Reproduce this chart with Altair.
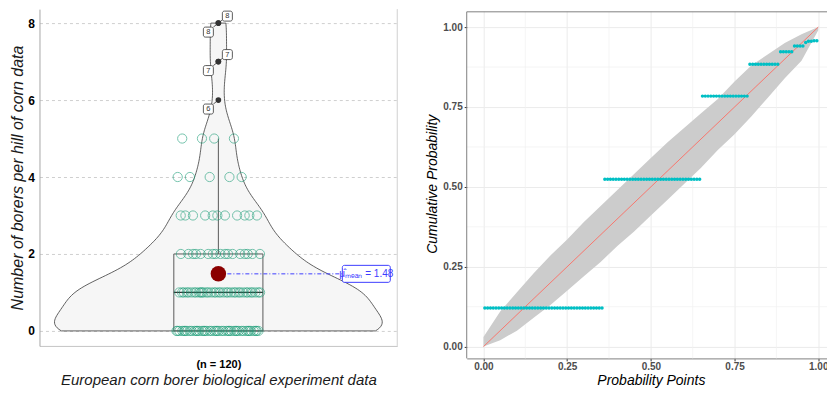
import altair as alt
import pandas as pd
import numpy as np

# ---------------- data ----------------
borer_values = [0, 1, 2, 3, 4, 5, 6, 7, 8]
borer_counts = [43, 35, 17, 11, 5, 4, 1, 2, 2]
# fitted cumulative probability plotted for each observed value (P-P plot)
pp_cum_prob = [0.121, 0.524, 0.784, 0.884, 0.923, 0.941, 0.952, 0.956, 0.957]

# simulation envelope of the P-P plot
band_x = [0.00, 0.05, 0.10, 0.15, 0.20, 0.25, 0.30, 0.35, 0.40, 0.45, 0.50,
          0.55, 0.60, 0.65, 0.70, 0.75, 0.80, 0.85, 0.90, 0.95, 1.00]
band_upper = [0.03, 0.11, 0.17, 0.23, 0.285, 0.335, 0.39, 0.44, 0.49, 0.54, 0.59,
              0.64, 0.685, 0.73, 0.775, 0.83, 0.88, 0.915, 0.95, 0.978, 1.00]
band_lower = [0.00, 0.02, 0.05, 0.09, 0.13, 0.175, 0.22, 0.265, 0.315, 0.36, 0.41,
              0.46, 0.51, 0.56, 0.615, 0.665, 0.72, 0.78, 0.84, 0.895, 0.99]
diag_x = [0.0, 1.0]

left_y_ticks = [0, 2, 4, 6, 8]
pp_major_ticks = [0.0, 0.25, 0.5, 0.75, 1.0]
pp_minor_ticks = [0.125, 0.375, 0.625, 0.875]

x_title_left = "European corn borer biological experiment data"
y_title_left = "Number of borers per hill of corn data"
x_title_right = "Probability Points"
y_title_right = "Cumulative Probability"

# ---------------- tables ----------------
n = int(sum(borer_counts))
rows = []
i = 0
for v, c, p in zip(borer_values, borer_counts, pp_cum_prob):
    for k in range(c):
        i += 1
        rows.append({"value": v, "rank": k, "cum": p, "ppoint": (i - 0.5) / n})
obs = pd.DataFrame(rows)

arr = np.repeat(borer_values, borer_counts)
q1, q3 = np.percentile(arr, [25, 75])
bw = float(0.9 * min(arr.std(ddof=1), (q3 - q1) / 1.34) * n ** -0.2)

band_df = pd.DataFrame({"x": band_x, "lo": band_lower, "hi": band_upper})
minor_df = pd.DataFrame({"m": pp_minor_ticks})
diag_df = pd.DataFrame({"d": diag_x})

FONT = "Liberation Sans"
VW = 0.916   # violin half width (share of panel half width)
BW = 0.249   # box half width

LW, LH = 358, 337          # left plot size
RW, RH = 368.5, 349.5      # right plot size

# ---------------- left panel ----------------
xs_l = alt.Scale(domain=[-1, 1], nice=False, zero=False)
ys_l = alt.Scale(domain=[-0.3896, 8.3636], nice=False, zero=False)

XA = alt.Axis(values=[0], labelExpr=f"'(n = {n})'", labelFontWeight="bold",
              labelFontSize=11, labelColor="black", ticks=False, tickSize=0,
              labelPadding=13, domainColor="#c4c4c4", grid=False,
              title=x_title_left, titleFontSize=15, titleFontStyle="italic",
              titleFontWeight="normal", titleColor="#1a1a1a",
              titleY=38.5, titleBaseline="alphabetic")
YA = alt.Axis(values=left_y_ticks, format="d", labelFontWeight="bold",
              labelFontSize=12, labelColor="black", ticks=False, tickSize=0,
              labelPadding=5, grid=True, gridDash=[3, 3], gridColor="#cfcfcf",
              domainColor="#a8a8a8", title=y_title_left, titleFontSize=16,
              titleFontStyle="italic", titleFontWeight="normal",
              titleColor="#1a1a1a", titleX=-21.5, titleBaseline="middle")


def xd(v):
    return alt.XDatum(v, scale=xs_l, axis=XA)


def yf(f):
    return alt.Y(f, scale=ys_l, axis=YA)


base = alt.Chart(obs)

violin = base.transform_density(
    "value", as_=["value", "density"], bandwidth=bw, extent=[0, 8], steps=200
).transform_joinaggregate(maxd="max(density)").transform_calculate(
    hw=f"{VW}*datum.density/datum.maxd", nhw=f"-{VW}*datum.density/datum.maxd"
).mark_area(orient="horizontal", fill="#f6f6f6", stroke="#3a3a3a", strokeWidth=0.8).encode(
    y=yf("value:Q"),
    x=alt.X("nhw:Q", scale=xs_l, axis=XA),
    x2="hw:Q",
)

fence = base.transform_joinaggregate(fq1="q1(value)", fq3="q3(value)").transform_calculate(
    fence="datum.fq3 + 1.5*(datum.fq3 - datum.fq1)")

stats = base.transform_aggregate(bq1="q1(value)", bmed="median(value)", bq3="q3(value)")
box = stats.mark_rect(fill="white", fillOpacity=0, stroke="#595959", strokeWidth=1).encode(
    x=xd(-BW), x2=alt.X2Datum(BW), y=yf("bq1:Q"), y2="bq3:Q")
med = stats.mark_rule(color="#333333", strokeWidth=1.3).encode(
    x=xd(-BW), x2=alt.X2Datum(BW), y=yf("bmed:Q"))
whisk = fence.transform_filter("datum.value <= datum.fence").transform_aggregate(
    top="max(value)", wq3="max(fq3)").mark_rule(color="#595959", strokeWidth=1).encode(
    x=xd(0), y=yf("wq3:Q"), y2="top:Q")

jit = fence.transform_filter("datum.value <= datum.fence").transform_calculate(
    jx=f"(((datum.rank*0.618034 + datum.value*0.29) % 1) * 2 - 1) * {BW - 0.015}"
).mark_point(shape="circle", filled=False, size=85, color="#1b9e77", strokeWidth=1,
             opacity=0.6).encode(
    x=alt.X("jx:Q", scale=xs_l, axis=XA), y=yf("value:Q"))

outl = fence.transform_filter("datum.value > datum.fence")
out_pts = outl.mark_circle(size=32, color="#333333", opacity=1).encode(
    x=xd(0), y=yf("value:Q"))

out_l = outl.transform_filter("datum.rank % 2 == 0")
out_r = outl.transform_filter("datum.rank % 2 == 1")
conn_l = out_l.mark_rule(color="#333333", strokeWidth=0.8, x2Offset=-5, y2Offset=4).encode(
    x=xd(0), x2=alt.X2Datum(0), y=yf("value:Q"), y2="value:Q")
conn_r = out_r.mark_rule(color="#333333", strokeWidth=0.8, x2Offset=5, y2Offset=-4).encode(
    x=xd(0), x2=alt.X2Datum(0), y=yf("value:Q"), y2="value:Q")
box_l = out_l.mark_rect(width=10, height=10, cornerRadius=2, fill="white", stroke="#333333",
                        strokeWidth=0.8, xOffset=-10, yOffset=9).encode(
    x=xd(0), y=yf("value:Q"))
box_r = out_r.mark_rect(width=10, height=10, cornerRadius=2, fill="white", stroke="#333333",
                        strokeWidth=0.8, xOffset=9, yOffset=-7).encode(
    x=xd(0), y=yf("value:Q"))
txt_l = out_l.mark_text(dx=-10, dy=9, fontSize=7.5, color="#333333").encode(
    x=xd(0), y=yf("value:Q"), text="value:Q")
txt_r = out_r.mark_text(dx=9, dy=-7, fontSize=7.5, color="#333333").encode(
    x=xd(0), y=yf("value:Q"), text="value:Q")

mean_base = base.transform_aggregate(mu="mean(value)").transform_calculate(
    lab="'\u03bc\u0302\u2098\u2091\u2090\u2099 = ' + format(datum.mu, '.2f')")
mean_line = mean_base.mark_rule(color="#3d3dff", strokeDash=[4, 2, 1, 2], strokeWidth=1).encode(
    x=xd(0), x2=alt.X2Datum(0.693), y=yf("mu:Q"))
mean_box = mean_base.mark_rect(height=17, cornerRadius=2, fill="white", stroke="#3d3dff",
                               strokeWidth=1).encode(
    x=xd(0.693), x2=alt.X2Datum(0.961), y=yf("mu:Q"))
mean_txt = mean_base.mark_text(fontSize=10, color="#3d3dff").encode(
    x=xd(0.827), y=yf("mu:Q"), text="lab:N")
mean_pt = mean_base.mark_circle(size=240, color="#8b0000", opacity=1).encode(
    x=xd(0), y=yf("mu:Q"))

rborder = base.transform_aggregate(cnt="count()").mark_rule(color="#d0d0d0").encode(
    x=alt.value(LW), y=alt.value(0), y2=alt.value(LH))

left = alt.layer(
    violin, box, med, whisk, jit, out_pts, conn_l, conn_r, box_l, box_r, txt_l, txt_r,
    mean_line, mean_box, mean_txt, mean_pt, rborder
).properties(width=LW, height=LH, view=alt.ViewBackground(stroke="transparent"))

# ---------------- right panel ----------------
xs_r = alt.Scale(domain=[-0.05, 1.05], nice=False, zero=False)
ys_r = alt.Scale(domain=[-0.0369, 1.0563], nice=False, zero=False)
ax_common = dict(format=".2f", labelFontWeight="bold", labelFontSize=10, labelColor="#4d4d4d",
                 tickSize=2.5, tickColor="#333333", gridColor="#ebebeb", gridWidth=1,
                 domainColor="#808080", titleFontSize=14, titleFontStyle="italic",
                 titleFontWeight="normal", titleColor="black")
XR = alt.Axis(values=pp_major_ticks, title=x_title_right, labelPadding=0.5,
              titleY=26.5, titleBaseline="alphabetic", **ax_common)
YR = alt.Axis(values=pp_major_ticks, title=y_title_right, labelPadding=2, domain=False,
              titleX=-34.5, titleBaseline="middle", **ax_common)


def xr(f):
    return alt.X(f, scale=xs_r, axis=XR)


def yr(f):
    return alt.Y(f, scale=ys_r, axis=YR)


band = alt.Chart(band_df).mark_area(color="#cccccc", opacity=1).encode(
    x=xr("x:Q"), y=yr("lo:Q"), y2="hi:Q")
minor_v = alt.Chart(minor_df).mark_rule(color="#f0f0f0", strokeWidth=0.7).encode(x=xr("m:Q"))
minor_h = alt.Chart(minor_df).mark_rule(color="#f0f0f0", strokeWidth=0.7).encode(y=yr("m:Q"))
diag = alt.Chart(diag_df).mark_line(color="#f8766d", strokeWidth=1).encode(
    x=xr("d:Q"), y=yr("d:Q"))
pts = alt.Chart(obs).mark_circle(size=12, color="#00bfc4", opacity=1).encode(
    x=xr("ppoint:Q"), y=yr("cum:Q"))

one = alt.Chart(diag_df).transform_aggregate(c="count()")
top_mask = one.mark_rect(color="white", opacity=1).encode(
    x=alt.value(0.5), x2=alt.value(RW), y=alt.value(0), y2=alt.value(2.3))
top_border = one.mark_rule(color="#808080", strokeWidth=1).encode(
    x=alt.value(0), x2=alt.value(RW), y=alt.value(2.7))
left_border = one.mark_rule(color="#808080", strokeWidth=1).encode(
    x=alt.value(0), y=alt.value(2.7), y2=alt.value(RH))

right = alt.layer(minor_v, minor_h, band, diag, pts, top_mask, top_border, left_border).properties(
    width=RW, height=RH, view=alt.ViewBackground(stroke="transparent"))

chart = alt.hconcat(left, right, spacing=26.5).properties(
    padding={"left": 1.5, "top": 0, "right": -9, "bottom": 0}
).configure(font=FONT).configure_view(stroke="transparent")

chart.save("out.html", embed_options={"renderer": "svg", "actions": False})
